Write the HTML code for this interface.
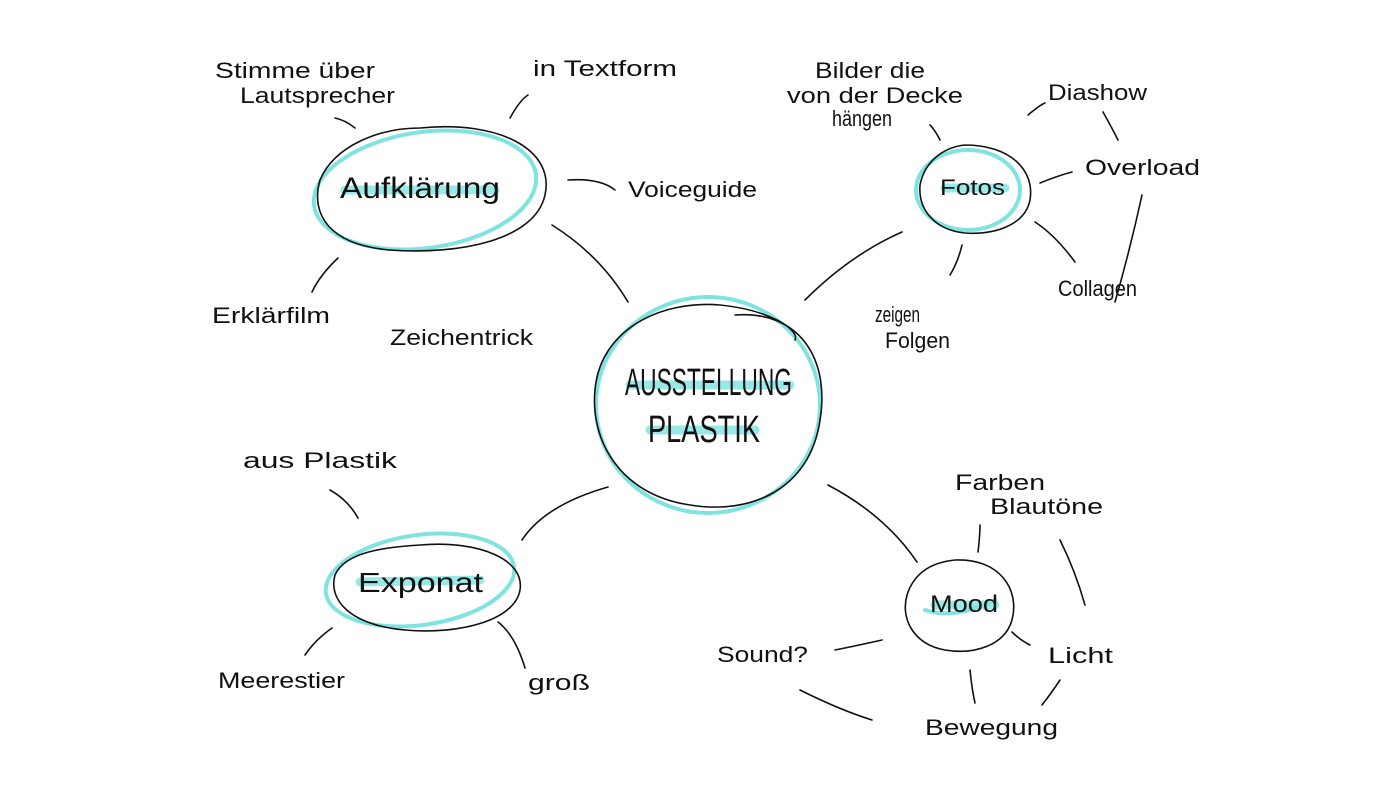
<!DOCTYPE html>
<html><head><meta charset="utf-8"><style>
html,body{margin:0;padding:0;background:#fff;}
svg{display:block}
text{font-family:"Liberation Sans",sans-serif;fill:#111;}
</style></head><body>
<svg width="1400" height="800" viewBox="0 0 1400 800" xmlns="http://www.w3.org/2000/svg">
<g fill="none" stroke-linecap="round">
<g stroke="#7fe3e0" stroke-width="4">
<ellipse cx="708" cy="405" rx="112" ry="108"/>
<ellipse cx="425" cy="190" rx="112" ry="58" transform="rotate(-8 425 190)"/>
<ellipse cx="968" cy="190" rx="52" ry="40"/>
<ellipse cx="420" cy="580" rx="95" ry="45" transform="rotate(-8 420 580)"/>
<path d="M925 610 q30 10 70 -10"/>
</g>
<g stroke="#7fe3e0" stroke-width="9" opacity="0.8">
<path d="M630 385 L790 385"/><path d="M650 430 L755 430"/>
<path d="M345 190 L495 190"/><path d="M945 188 L1005 188"/>
<path d="M360 582 L480 580"/><path d="M935 605 L995 605"/>
</g>
<g stroke="#111" stroke-width="1.6">
<path d="M735 315 C800 310 830 360 820 420 C810 490 750 515 690 505 C620 495 590 440 595 390 C600 330 660 300 720 305 C770 310 800 330 795 340"/>
<path d="M420 128 C500 120 555 150 545 195 C535 240 460 255 390 250 C330 245 310 215 320 180 C335 145 380 128 420 128"/>
<path d="M965 145 C1010 145 1035 170 1030 200 C1025 225 995 235 965 233 C935 230 918 210 920 185 C925 160 945 147 965 145"/>
<path d="M420 545 C480 540 525 560 520 590 C515 620 460 635 405 630 C350 625 328 600 335 575 C345 552 385 547 420 545"/>
<path d="M955 560 C1000 558 1020 590 1012 620 C1005 645 975 655 945 650 C915 645 900 620 907 595 C915 570 935 562 955 560"/>
<path d="M552 225 Q600 255 628 302"/>
<path d="M805 300 Q850 255 902 232"/>
<path d="M608 487 Q545 505 522 540"/>
<path d="M828 485 Q885 515 917 562"/>
<path d="M355 128 Q345 120 335 118"/>
<path d="M510 118 Q520 100 528 95"/>
<path d="M568 180 Q600 178 615 190"/>
<path d="M338 258 Q320 275 312 292"/>
<path d="M940 140 Q935 130 930 125"/>
<path d="M1028 115 Q1040 105 1045 103"/>
<path d="M1103 112 Q1112 128 1118 140"/>
<path d="M1040 183 Q1060 175 1072 172"/>
<path d="M1035 222 Q1055 235 1075 262"/>
<path d="M1142 195 Q1130 250 1115 302"/>
<path d="M962 245 Q958 262 950 275"/>
<path d="M358 518 Q348 500 330 490"/>
<path d="M332 628 Q315 640 305 655"/>
<path d="M498 622 Q515 635 525 668"/>
<path d="M978 552 Q980 535 980 525"/>
<path d="M1060 540 Q1075 570 1085 605"/>
<path d="M1012 632 Q1020 640 1030 645"/>
<path d="M882 640 Q860 645 835 650"/>
<path d="M800 690 Q840 710 872 720"/>
<path d="M970 670 Q972 690 975 703"/>
<path d="M1060 680 Q1050 695 1042 705"/>
</g>
</g>
<g font-size="22" lengthAdjust="spacingAndGlyphs">
<text x="215" y="78" textLength="160" lengthAdjust="spacingAndGlyphs">Stimme über</text>
<text x="240" y="103" textLength="155" lengthAdjust="spacingAndGlyphs">Lautsprecher</text>
<text x="533" y="76" textLength="144" lengthAdjust="spacingAndGlyphs">in Textform</text>
<text x="628" y="197" textLength="129" lengthAdjust="spacingAndGlyphs">Voiceguide</text>
<text x="212" y="323" textLength="118" lengthAdjust="spacingAndGlyphs">Erklärfilm</text>
<text x="390" y="345" textLength="143" lengthAdjust="spacingAndGlyphs">Zeichentrick</text>
<text x="340" y="198" font-size="30" textLength="160" lengthAdjust="spacingAndGlyphs">Aufklärung</text>
<text x="815" y="78" textLength="110" lengthAdjust="spacingAndGlyphs">Bilder die</text>
<text x="787" y="103" textLength="176" lengthAdjust="spacingAndGlyphs">von der Decke</text>
<text x="832" y="126" textLength="60" lengthAdjust="spacingAndGlyphs">hängen</text>
<text x="1048" y="100" textLength="99" lengthAdjust="spacingAndGlyphs">Diashow</text>
<text x="1085" y="175" textLength="115" lengthAdjust="spacingAndGlyphs">Overload</text>
<text x="1058" y="296" textLength="79" lengthAdjust="spacingAndGlyphs">Collagen</text>
<text x="875" y="322" textLength="45" lengthAdjust="spacingAndGlyphs">zeigen</text>
<text x="885" y="348" textLength="65" lengthAdjust="spacingAndGlyphs">Folgen</text>
<text x="940" y="195" textLength="65" lengthAdjust="spacingAndGlyphs">Fotos</text>
<text x="625" y="395" font-size="38" textLength="167" lengthAdjust="spacingAndGlyphs">AUSSTELLUNG</text>
<text x="648" y="442" font-size="38" textLength="112" lengthAdjust="spacingAndGlyphs">PLASTIK</text>
<text x="243" y="468" textLength="154" lengthAdjust="spacingAndGlyphs">aus Plastik</text>
<text x="358" y="592" font-size="28" textLength="125" lengthAdjust="spacingAndGlyphs">Exponat</text>
<text x="218" y="688" textLength="127" lengthAdjust="spacingAndGlyphs">Meerestier</text>
<text x="528" y="690" textLength="62" lengthAdjust="spacingAndGlyphs">groß</text>
<text x="955" y="490" textLength="90" lengthAdjust="spacingAndGlyphs">Farben</text>
<text x="990" y="514" textLength="113" lengthAdjust="spacingAndGlyphs">Blautöne</text>
<text x="930" y="612" font-size="24" textLength="68" lengthAdjust="spacingAndGlyphs">Mood</text>
<text x="717" y="662" textLength="91" lengthAdjust="spacingAndGlyphs">Sound?</text>
<text x="1048" y="663" textLength="65" lengthAdjust="spacingAndGlyphs">Licht</text>
<text x="925" y="735" textLength="133" lengthAdjust="spacingAndGlyphs">Bewegung</text>
</g>
</svg>
</body></html>
